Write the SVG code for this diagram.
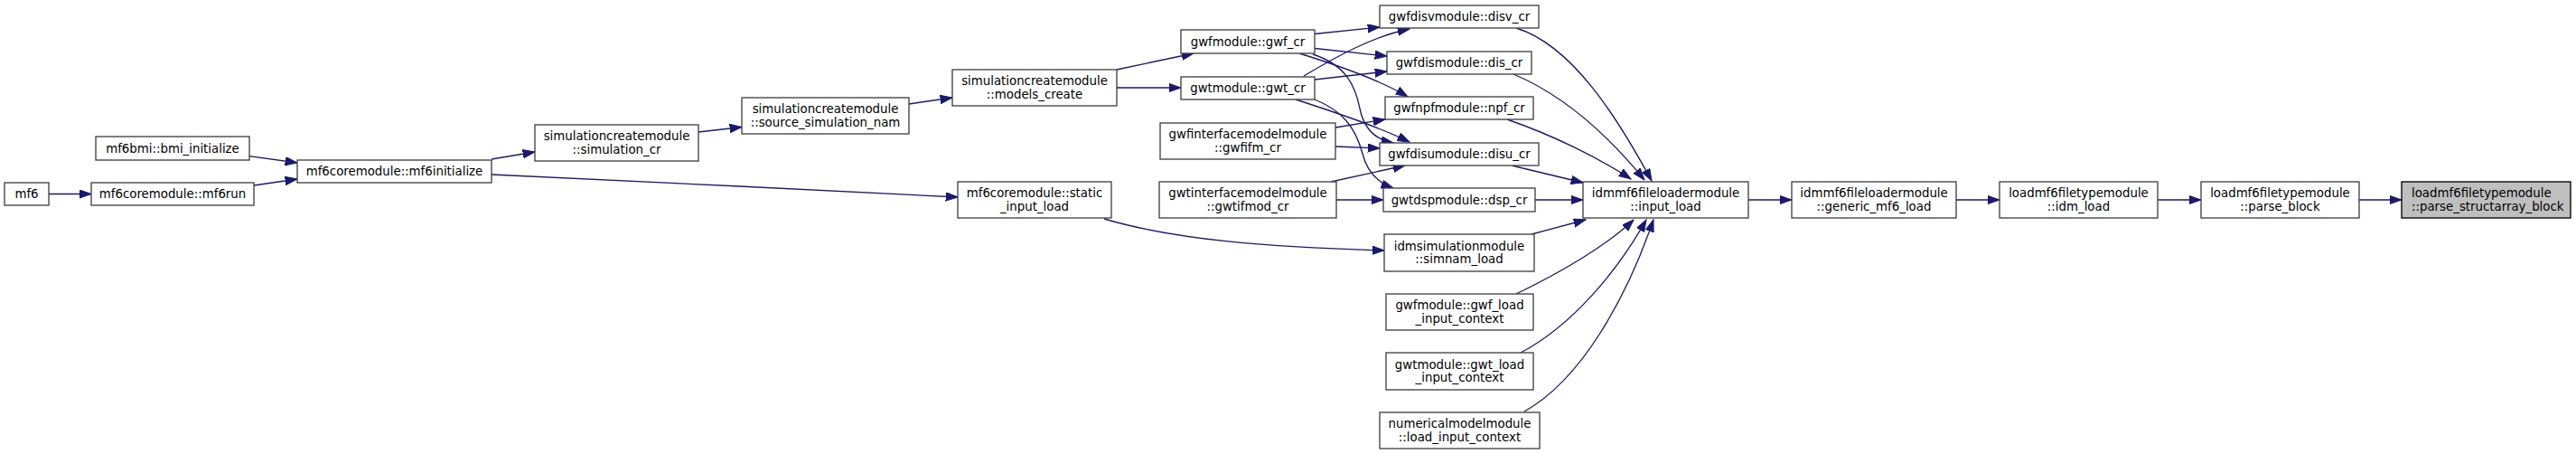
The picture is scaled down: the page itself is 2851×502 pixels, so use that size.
<svg xmlns="http://www.w3.org/2000/svg" width="2851" height="502" viewBox="0 0 2851 502">
<defs>
<style>
.node rect{fill:#ffffff;stroke:#404040;stroke-width:1.33}
.node.root rect{fill:#bfbfbf;stroke:#000000}
.node text{font-family:"DejaVu Sans","Liberation Sans",sans-serif;font-size:13.33px;fill:#000000;text-anchor:middle}
.node.root text{text-anchor:start}
.edges path{fill:none;stroke:#191970;stroke-width:1.33;marker-end:url(#arr)}
</style>
<marker id="arr" markerWidth="14" markerHeight="10" refX="13.3" refY="4.7" orient="auto" markerUnits="userSpaceOnUse">
<path d="M0,0 L13.3,4.7 L0,9.4 z" fill="#191970" stroke="#191970" stroke-width="1"/>
</marker>
</defs>
<rect x="0" y="0" width="2851" height="502" fill="#ffffff"/>

<g id="edges" class="edges">
<path d="M54,214.5 L101,214.5"/>
<path d="M276,172.7 L329,180"/>
<path d="M281,205 L329,198"/>
<path d="M544,176 L592,168"/>
<path d="M544,193 C700,200 900,210 1060,218"/>
<path d="M773,146 L821,140.5"/>
<path d="M1006,115 L1054,108"/>
<path d="M1236,77 L1321,59"/>
<path d="M1236,97 L1307,97"/>
<path d="M1455,37.5 L1527,30"/>
<path d="M1455,53.5 L1535,62"/>
<path d="M1438,59 C1480,72 1530,90 1558,107"/>
<path d="M1453,60 C1490,72 1500,95 1505,120 C1510,145 1525,155 1542,158"/>
<path d="M1443,84 C1480,62 1520,40 1560,32"/>
<path d="M1455,88 L1535,79"/>
<path d="M1434,110 C1480,125 1525,140 1560,157"/>
<path d="M1455,110 C1485,122 1500,140 1508,170 C1513,190 1525,202 1542,208"/>
<path d="M1478,141 L1533,132"/>
<path d="M1478,162 L1527,164"/>
<path d="M1473,201 L1555,183"/>
<path d="M1479,221 L1531,221"/>
<path d="M1678,31 C1740,50 1790,130 1828,200"/>
<path d="M1675,82 C1730,105 1780,150 1820,199"/>
<path d="M1668,132 C1720,150 1770,175 1805,198"/>
<path d="M1673,183 L1752,202"/>
<path d="M1699,221 L1752,221"/>
<path d="M1222,242 C1300,265 1400,273 1532,277"/>
<path d="M1695,259 L1755,243"/>
<path d="M1678,325 C1730,300 1780,270 1808,243"/>
<path d="M1683,390 C1740,360 1790,300 1822,243"/>
<path d="M1687,455 C1750,420 1800,330 1830,243"/>
<path d="M1935,221 L1983,221"/>
<path d="M2165,221 L2213,221"/>
<path d="M2388,221 L2436,221"/>
<path d="M2611,221 L2658,221"/>
</g>

<g id="n_mf6" class="node"><rect x="5" y="202" width="49" height="25"/><text x="29.5" y="219">mf6</text></g>
<g id="n_bmi_initialize" class="node"><rect x="106" y="151" width="170" height="26"/><text x="191" y="168.5">mf6bmi::bmi_initialize</text></g>
<g id="n_mf6run" class="node"><rect x="101" y="202" width="180" height="25"/><text x="191" y="219">mf6coremodule::mf6run</text></g>
<g id="n_mf6initialize" class="node"><rect x="329" y="177" width="215" height="25"/><text x="436.5" y="194">mf6coremodule::mf6initialize</text></g>
<g id="n_simulation_cr" class="node"><rect x="592" y="138" width="181" height="40"/><text x="682.5" y="155.2">simulationcreatemodule</text><text x="682.5" y="169.9">::simulation_cr</text></g>
<g id="n_source_simulation_nam" class="node"><rect x="821" y="108" width="185" height="40"/><text x="913.5" y="125.2">simulationcreatemodule</text><text x="913.5" y="139.9">::source_simulation_nam</text></g>
<g id="n_models_create" class="node"><rect x="1054" y="77" width="182" height="40"/><text x="1145" y="94.2">simulationcreatemodule</text><text x="1145" y="108.9">::models_create</text></g>
<g id="n_static_input_load" class="node"><rect x="1060" y="201" width="170" height="40"/><text x="1145" y="218.2">mf6coremodule::static</text><text x="1145" y="232.9">_input_load</text></g>
<g id="n_gwf_cr" class="node"><rect x="1307" y="33" width="148" height="26"/><text x="1381" y="50.5">gwfmodule::gwf_cr</text></g>
<g id="n_gwt_cr" class="node"><rect x="1307" y="85" width="148" height="25"/><text x="1381" y="102">gwtmodule::gwt_cr</text></g>
<g id="n_gwfifm_cr" class="node"><rect x="1284" y="136" width="194" height="40"/><text x="1381" y="153.2">gwfinterfacemodelmodule</text><text x="1381" y="167.9">::gwfifm_cr</text></g>
<g id="n_gwtifmod_cr" class="node"><rect x="1283" y="201" width="196" height="40"/><text x="1381" y="218.2">gwtinterfacemodelmodule</text><text x="1381" y="232.9">::gwtifmod_cr</text></g>
<g id="n_disv_cr" class="node"><rect x="1527" y="6" width="176" height="25"/><text x="1615" y="23">gwfdisvmodule::disv_cr</text></g>
<g id="n_dis_cr" class="node"><rect x="1535" y="57" width="160" height="25"/><text x="1615" y="74">gwfdismodule::dis_cr</text></g>
<g id="n_npf_cr" class="node"><rect x="1533" y="107" width="164" height="25"/><text x="1615" y="124">gwfnpfmodule::npf_cr</text></g>
<g id="n_disu_cr" class="node"><rect x="1527" y="158" width="176" height="25"/><text x="1615" y="175">gwfdisumodule::disu_cr</text></g>
<g id="n_dsp_cr" class="node"><rect x="1531" y="208" width="168" height="26"/><text x="1615" y="225.5">gwtdspmodule::dsp_cr</text></g>
<g id="n_simnam_load" class="node"><rect x="1532" y="259" width="166" height="41"/><text x="1615" y="276.7">idmsimulationmodule</text><text x="1615" y="291.4">::simnam_load</text></g>
<g id="n_gwf_load_input_context" class="node"><rect x="1534" y="325" width="163" height="40"/><text x="1615.5" y="342.2">gwfmodule::gwf_load</text><text x="1615.5" y="356.9">_input_context</text></g>
<g id="n_gwt_load_input_context" class="node"><rect x="1534" y="390" width="163" height="41"/><text x="1615.5" y="407.7">gwtmodule::gwt_load</text><text x="1615.5" y="422.4">_input_context</text></g>
<g id="n_load_input_context" class="node"><rect x="1527" y="456" width="177" height="40"/><text x="1615.5" y="473.2">numericalmodelmodule</text><text x="1615.5" y="487.9">::load_input_context</text></g>
<g id="n_input_load" class="node"><rect x="1752" y="201" width="183" height="40"/><text x="1843.5" y="218.2">idmmf6fileloadermodule</text><text x="1843.5" y="232.9">::input_load</text></g>
<g id="n_generic_mf6_load" class="node"><rect x="1983" y="201" width="182" height="40"/><text x="2074" y="218.2">idmmf6fileloadermodule</text><text x="2074" y="232.9">::generic_mf6_load</text></g>
<g id="n_idm_load" class="node"><rect x="2213" y="201" width="175" height="40"/><text x="2300.5" y="218.2">loadmf6filetypemodule</text><text x="2300.5" y="232.9">::idm_load</text></g>
<g id="n_parse_block" class="node"><rect x="2436" y="201" width="175" height="40"/><text x="2523.5" y="218.2">loadmf6filetypemodule</text><text x="2523.5" y="232.9">::parse_block</text></g>
<g id="n_parse_structarray_block" class="node root"><rect x="2658" y="201" width="187" height="40"/><text x="2669" y="218.2">loadmf6filetypemodule</text><text x="2669" y="232.9">::parse_structarray_block</text></g>
</svg>
